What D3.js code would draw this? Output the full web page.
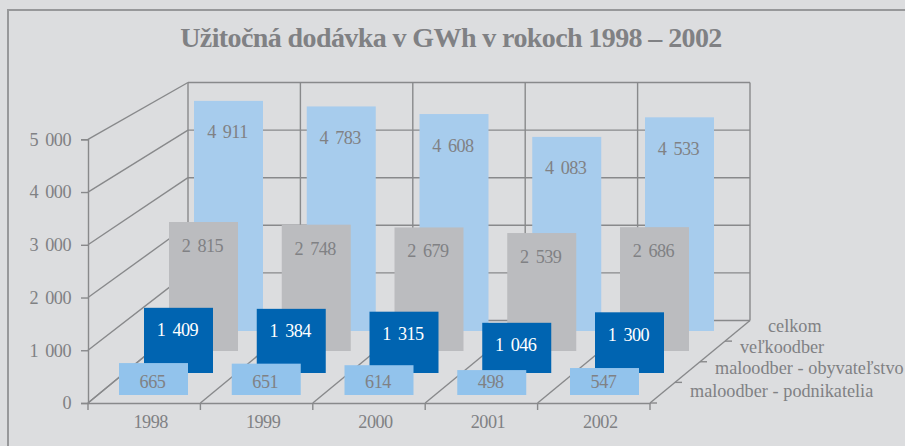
<!DOCTYPE html>
<html>
<head>
<meta charset="utf-8">
<script src="https://cdn.jsdelivr.net/npm/d3@7"></script>
<style>
  html, body { margin: 0; padding: 0; background: #dcdddf; }
  svg { display: block; }
  text { font-family: "Liberation Serif", serif; fill: #808184; }
  .num { font-size: 18.2px; letter-spacing: -0.5px; word-spacing: 3px; }
</style>
</head>
<body>
<div id="chart"></div>
<script>
// --- DATA ---
const title = "Užitočná dodávka v GWh v rokoch 1998 – 2002";
const years = ["1998", "1999", "2000", "2001", "2002"];
const seriesNames = ["celkom", "veľkoodber", "maloodber - obyvateľstvo", "maloodber - podnikatelia"];
const celkom = [4911, 4783, 4608, 4083, 4533];
const velkoodber = [2815, 2748, 2679, 2539, 2686];
const obyvatelstvo = [1409, 1384, 1315, 1046, 1300];
const podnikatelia = [665, 651, 614, 498, 547];
const axisTicks = [0, 1000, 2000, 3000, 4000, 5000];

// --- SETUP ---
const width = 905, height = 446;
const lineColor = "#88898b";
const svg = d3.select("#chart").append("svg").attr("width", width).attr("height", height);
const fmt = d3.formatLocale({ decimal: ",", thousands: " ", grouping: [3], currency: ["", ""] }).format(",d");

// frame
svg.append("path").attr("d", "M8,446V10H905").attr("fill", "none").attr("stroke", "#97989a").attr("stroke-width", 2);

svg.append("text").attr("x", 451).attr("y", 47).attr("text-anchor", "middle")
    .attr("font-size", 28).attr("letter-spacing", -0.6).attr("font-weight", "bold").text(title);

// --- 3D BOX ---
const front = { x0: 88, x1: 650 };
const back = { x0: 188, x1: 750 };
const yFront = d3.scaleLinear().domain([0, 5000]).range([403, 139.3]);
const yBack = d3.scaleLinear().domain([0, 5000]).range([320.5, 82.5]);
const cols = d3.range(years.length + 1);
const xFront = d3.scaleLinear().domain([0, years.length]).range([front.x0, front.x1]);
const xBack = d3.scaleLinear().domain([0, years.length]).range([back.x0, back.x1]);

const grid = svg.append("g").attr("fill", "none").attr("stroke", lineColor).attr("stroke-width", 1.4);
// back wall
grid.selectAll(".hline").data(axisTicks).join("line").attr("class", "hline")
    .attr("x1", back.x0).attr("x2", back.x1)
    .attr("y1", d => yBack(d)).attr("y2", d => yBack(d));
grid.selectAll(".vline").data(cols).join("line").attr("class", "vline")
    .attr("x1", d => xBack(d)).attr("x2", d => xBack(d))
    .attr("y1", yBack(0)).attr("y2", yBack(5000));
// left wall
grid.selectAll(".wall").data(axisTicks).join("line").attr("class", "wall")
    .attr("x1", front.x0).attr("y1", d => yFront(d))
    .attr("x2", back.x0).attr("y2", d => yBack(d));
// floor
grid.selectAll(".floor").data(cols).join("line").attr("class", "floor")
    .attr("x1", d => xFront(d)).attr("y1", yFront(0))
    .attr("x2", d => xBack(d)).attr("y2", yBack(0));
// depth ticks on the right floor edge
const depth = d3.scaleLinear().domain([0, seriesNames.length]);
grid.selectAll(".dtick").data(d3.range(0, seriesNames.length)).join("line").attr("class", "dtick")
    .attr("x1", d => depth.range([front.x1, back.x1])(d))
    .attr("x2", d => depth.range([front.x1, back.x1])(d) + 7)
    .attr("y1", d => depth.range([yFront(0), yBack(0)])(d))
    .attr("y2", d => depth.range([yFront(0), yBack(0)])(d));

// --- AXES ---
const yAxis = svg.append("g").attr("transform", `translate(${front.x0},0)`)
    .call(d3.axisLeft(yFront).tickValues(axisTicks).tickFormat(fmt).tickSize(7).tickPadding(10));
const xLabels = d3.scaleBand().domain(years).range([front.x0, front.x1]);
const xAxis = svg.append("g").attr("transform", `translate(0,${yFront(0)})`)
    .call(d3.axisBottom(xLabels).tickSize(0).tickPadding(12));
xAxis.selectAll(".dtickx").data(cols).join("line").attr("class", "dtickx")
    .attr("x1", d => xFront(d)).attr("x2", d => xFront(d))
    .attr("y1", 0).attr("y2", 7).attr("stroke", lineColor).attr("stroke-width", 1.4);
xAxis.selectAll(".tick text").attr("dx", 6.5);
for (const ax of [yAxis, xAxis]) {
    ax.attr("font-family", null).attr("font-size", null);
    ax.selectAll(".domain").attr("stroke", lineColor).attr("stroke-width", 1.4);
    ax.selectAll(".tick line").attr("stroke", lineColor).attr("stroke-width", 1.4);
    ax.selectAll("text").attr("class", "num").attr("fill", "#808184");
}

// --- BARS (back row first) ---
const barWidth = 69, barStep = 112.75;
const rows = [
    { values: celkom, x0: 194, base: 331, y0: 314.6, y5: 97, color: "#a7cced", text: "#808184", label: (y, b) => y + 37.5 },
    { values: velkoodber, x0: 169, base: 351, y0: 334.6, y5: 134.6, color: "#bbbcbf", text: "#808184", label: (y, b) => y + 30 },
    { values: obyvatelstvo, x0: 144, base: 373, y0: 366, y5: 159.5, color: "#0064b1", text: "#ffffff", label: (y, b) => y + 28.5 },
    { values: podnikatelia, x0: 119, base: 395, y0: 391, y5: 181, color: "#92c3ec", text: "#808184", label: (y, b) => b - 7.5 }
];

rows.forEach(row => {
    const x = d3.scaleBand().domain(years)
        .range([row.x0, row.x0 + (years.length - 1) * barStep + barWidth])
        .paddingInner(1 - barWidth / barStep);
    const y = d3.scaleLinear().domain([0, 5000]).range([row.y0, row.y5]);
    const g = svg.append("g");
    g.selectAll("rect").data(row.values).join("rect")
        .attr("x", (d, i) => x(years[i]))
        .attr("width", x.bandwidth())
        .attr("y", d => y(d))
        .attr("height", d => row.base - y(d))
        .attr("fill", row.color);
    g.selectAll("text").data(row.values).join("text")
        .attr("class", "num")
        .attr("x", (d, i) => x(years[i]) + x.bandwidth() / 2 - 1)
        .attr("y", d => row.label(y(d), row.base))
        .attr("text-anchor", "middle")
        .style("fill", row.text)
        .text(d => fmt(d));
});

// --- SERIES NAMES along the depth axis ---
const nameX = d3.scaleOrdinal().domain(seriesNames).range([768, 740, 715, 690]);
const nameY = d3.scaleOrdinal().domain(seriesNames).range([332, 353, 374, 396.5]);
svg.append("g").selectAll("text").data(seriesNames).join("text")
    .attr("x", d => nameX(d)).attr("y", d => nameY(d))
    .attr("font-size", 18.2).attr("word-spacing", 0.2).text(d => d);
</script>
</body>
</html>
